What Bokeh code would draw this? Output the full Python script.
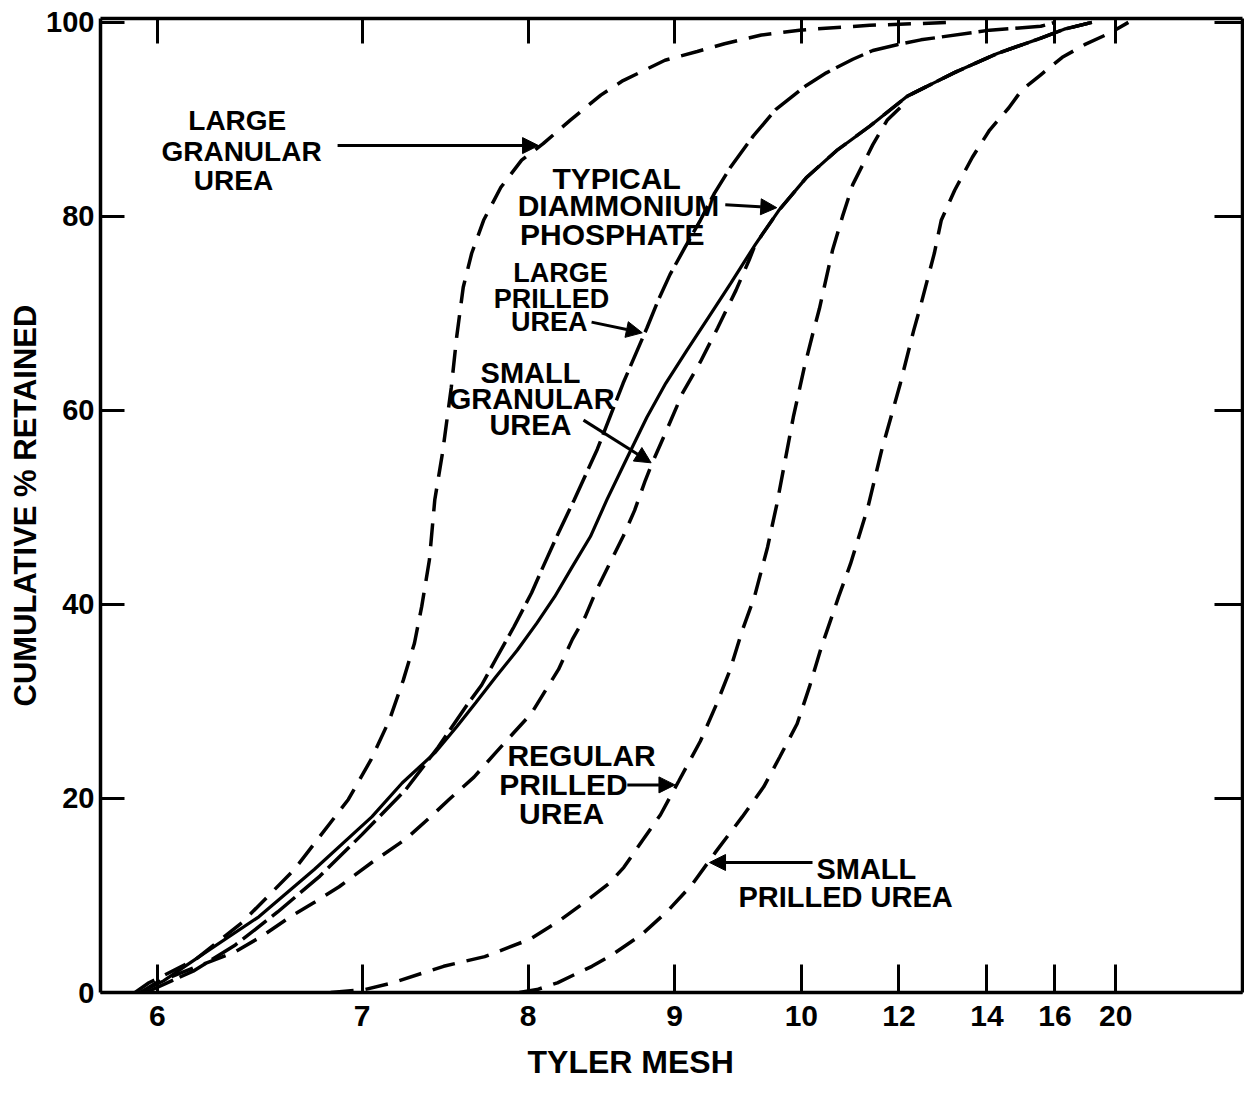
from bokeh.plotting import figure
from bokeh.models import Range1d, FixedTicker, LinearAxis, Label, Arrow, NormalHead, Title
from bokeh.embed import file_html
from bokeh.resources import INLINE

# ---------------- data ----------------
# Tyler mesh designations and their sieve openings (mm) -> x axis
mesh_labels = ["6", "7", "8", "9", "10", "12", "14", "16", "20"]
mesh_opening_mm = [3.327, 2.794, 2.362, 1.981, 1.651, 1.397, 1.168, 0.991, 0.833]
pct_ticks = [0, 20, 40, 60, 80, 100]

# cumulative % retained versus sieve opening (mm)
large_granular_mm = [3.385, 3.349, 3.228, 3.107, 2.970, 2.830, 2.771, 2.723, 2.687, 2.658,
                     2.639, 2.619, 2.605, 2.585, 2.562, 2.548, 2.531, 2.509, 2.478, 2.433,
                     2.379, 2.323, 2.253, 2.173, 2.115, 2.006, 1.922, 1.851, 1.755, 1.656,
                     1.473, 1.260]
large_granular_pct = [0, 1.0, 3.4, 7.2, 12.7, 19.9, 24.0, 28.1, 32.2, 36.0,
                      39.8, 44.6, 50.8, 55.6, 62.4, 67.6, 72.7, 76.2, 79.6, 83.0,
                      85.8, 87.5, 89.9, 92.5, 94.0, 96.1, 97.0, 97.8, 98.7, 99.2,
                      99.7, 100]

dap_mm = [3.371, 3.311, 3.192, 3.063, 2.918, 2.769, 2.690, 2.605, 2.548, 2.498,
          2.447, 2.390, 2.339, 2.293, 2.247, 2.200, 2.157, 2.106, 2.053, 2.004,
          1.949, 1.891, 1.835, 1.771, 1.710, 1.638, 1.559, 1.473, 1.375, 1.254,
          1.141, 1.033, 0.967, 0.895]
dap_pct = [0, 1.2, 4.4, 7.8, 12.7, 18.1, 21.6, 24.7, 27.4, 29.9,
           32.5, 35.3, 38.1, 40.8, 43.9, 47.0, 50.8, 55.0, 59.3, 62.8,
           66.2, 69.7, 73.1, 77.1, 80.6, 84.0, 86.8, 89.3, 92.4, 94.8,
           96.8, 98.3, 99.3, 100]

large_prilled_mm = [3.357, 3.234, 3.124, 3.014, 2.904, 2.794, 2.681, 2.596, 2.560, 2.520,
                    2.483, 2.447, 2.399, 2.353, 2.323, 2.283, 2.242, 2.182, 2.115, 2.053,
                    2.023, 1.993, 1.954, 1.914, 1.877, 1.835, 1.776, 1.718, 1.638, 1.586,
                    1.517, 1.465, 1.402, 1.340, 1.161, 1.028, 0.991]
large_prilled_pct = [0, 2.2, 4.9, 8.3, 12.0, 16.3, 20.9, 25.3, 27.4, 29.7,
                     31.7, 34.3, 37.7, 41.2, 43.9, 47.4, 50.8, 56.0, 62.8, 68.5,
                     71.4, 74.0, 76.8, 79.6, 82.4, 85.1, 88.3, 91.0, 93.5, 94.8,
                     96.2, 97.1, 97.7, 98.2, 99.2, 99.6, 100]

small_granular_mm = [3.371, 3.330, 3.223, 3.129, 3.055, 2.981, 2.918, 2.854, 2.769, 2.681,
                     2.616, 2.568, 2.503, 2.447, 2.399, 2.353, 2.316, 2.283, 2.247, 2.214,
                     2.184, 2.145, 2.115, 2.085, 2.057, 2.039, 2.009, 1.960, 1.914, 1.869,
                     1.821, 1.787, 1.771, 1.710, 1.638, 1.559, 1.473, 1.375, 1.254, 1.141,
                     1.033, 0.967, 0.895]
small_granular_pct = [0, 1.0, 2.7, 4.1, 5.8, 7.8, 9.3, 10.9, 13.4, 15.8,
                      18.1, 19.9, 22.2, 24.7, 26.8, 28.8, 31.2, 33.3, 36.4, 38.7,
                      41.5, 44.6, 47.0, 49.7, 52.8, 54.6, 57.3, 61.8, 65.0, 68.5,
                      72.4, 75.5, 77.1, 80.6, 84.0, 86.8, 89.3, 92.4, 94.8, 96.8,
                      98.3, 99.3, 100]

regular_prilled_mm = [2.876, 2.788, 2.715, 2.582, 2.475, 2.357, 2.277, 2.205, 2.150, 2.113,
                      2.066, 2.018, 1.970, 1.914, 1.872, 1.837, 1.805, 1.773, 1.739, 1.715,
                      1.672, 1.643, 1.622, 1.604, 1.570, 1.544, 1.517, 1.465, 1.428, 1.394,
                      1.375, 1.254, 1.141, 1.033, 0.967, 0.895]
regular_prilled_pct = [0, 0.3, 1.0, 2.7, 3.7, 5.5, 7.5, 9.6, 11.3, 12.9,
                       15.6, 18.3, 21.8, 25.9, 29.7, 33.2, 37.3, 40.8, 45.9, 50.3,
                       59.3, 64.5, 67.8, 70.5, 76.5, 80.0, 83.3, 87.4, 89.9, 91.2,
                       92.4, 94.8, 96.8, 98.3, 99.3, 100]

small_prilled_mm = [2.385, 2.339, 2.286, 2.196, 2.143, 2.066, 1.999, 1.936, 1.872, 1.805,
                    1.749, 1.707, 1.662, 1.630, 1.599, 1.554, 1.523, 1.478, 1.442, 1.394,
                    1.359, 1.340, 1.305, 1.287, 1.252, 1.206, 1.161, 1.111, 1.078, 1.028,
                    0.972, 0.914, 0.843, 0.800]
small_prilled_pct = [0, 0.3, 1.0, 2.7, 3.9, 6.0, 8.4, 11.1, 14.6, 18.1,
                     21.2, 24.3, 27.7, 31.5, 35.6, 40.8, 44.2, 50.0, 55.9, 62.7,
                     68.2, 70.9, 76.2, 79.6, 82.7, 86.1, 88.9, 91.2, 93.0, 94.6,
                     96.4, 97.7, 99.0, 100]

# ---------------- figure ----------------
FONT = "Liberation Sans"

p = figure(width=1244, height=1092,
           x_range=Range1d(3.475, 0.503), y_range=Range1d(0, 100.4),
           x_axis_type=None, y_axis_type=None,
           output_backend="svg", toolbar_location=None,
           min_border_left=100, min_border_right=2, min_border_top=18, min_border_bottom=99)
p.outline_line_color = None
p.background_fill_color = "white"
p.border_fill_color = "white"


def style_axis(ax, tick_len, show_labels, size="30px", standoff=8):
    ax.axis_line_color = "black"
    ax.axis_line_width = 3.5
    ax.major_tick_in = tick_len
    ax.major_tick_out = 0
    ax.major_tick_line_width = 3
    ax.major_tick_line_color = "black"
    ax.minor_tick_line_color = None
    if show_labels:
        ax.major_label_text_font = FONT
        ax.major_label_text_font_style = "bold"
        ax.major_label_text_font_size = size
        ax.major_label_text_color = "black"
        ax.major_label_standoff = standoff
    else:
        ax.major_label_text_color = None
        ax.major_label_text_font_size = "0px"
        ax.major_label_standoff = 0


bottom = LinearAxis(ticker=FixedTicker(ticks=mesh_opening_mm),
                    major_label_overrides=dict(zip(mesh_opening_mm, mesh_labels)))
style_axis(bottom, 28, True, "30px", 13)
p.add_layout(bottom, "below")

top = LinearAxis(ticker=FixedTicker(ticks=mesh_opening_mm))
style_axis(top, 25, False)
p.add_layout(top, "above")

left = LinearAxis(ticker=FixedTicker(ticks=pct_ticks), axis_label="CUMULATIVE % RETAINED")
style_axis(left, 24, True, "29px", 6)
left.axis_label_text_font = FONT
left.axis_label_text_font_style = "bold"
left.axis_label_text_font_size = "31px"
left.axis_label_text_color = "black"
left.axis_label_standoff = 0
p.add_layout(left, "left")

right = LinearAxis(ticker=FixedTicker(ticks=pct_ticks))
style_axis(right, 28, False)
p.add_layout(right, "right")

# x-axis title, placed where the original has it (left of centre)
p.add_layout(Title(text="TYLER MESH", align="left", offset=427, standoff=26,
                   text_font=FONT, text_font_style="bold", text_font_size="32px",
                   text_color="black"), "below")

DASH = "23 12"
lw = 3.5
p.line(large_granular_mm, large_granular_pct, line_color="black", line_width=lw, line_dash=DASH)
p.line(large_prilled_mm, large_prilled_pct, line_color="black", line_width=lw, line_dash="30 7")
p.line(small_granular_mm, small_granular_pct, line_color="black", line_width=lw, line_dash=DASH)
p.line(regular_prilled_mm, regular_prilled_pct, line_color="black", line_width=lw, line_dash=DASH)
p.line(small_prilled_mm, small_prilled_pct, line_color="black", line_width=lw, line_dash=DASH)
p.line(dap_mm, dap_pct, line_color="black", line_width=3.2)

# ---------------- annotations ----------------
notes = [
    ("LARGE", 3.119, 89.9, 28), ("GRANULAR", 3.108, 86.7, 28), ("UREA", 3.129, 83.7, 28),
    ("TYPICAL", 2.132, 83.9, 30), ("DIAMMONIUM", 2.127, 81.1, 30), ("PHOSPHATE", 2.143, 78.1, 30),
    ("LARGE", 2.278, 74.2, 27), ("PRILLED", 2.301, 71.5, 27), ("UREA", 2.307, 69.1, 27),
    ("SMALL", 2.356, 63.9, 29), ("GRANULAR", 2.353, 61.2, 29), ("UREA", 2.356, 58.5, 29),
    ("REGULAR", 2.223, 24.4, 30), ("PRILLED", 2.270, 21.4, 30), ("UREA", 2.275, 18.5, 30),
    ("SMALL", 1.482, 12.7, 29), ("PRILLED UREA", 1.536, 9.8, 29),
]
for txt, xx, yy, fs in notes:
    p.add_layout(Label(x=xx, y=yy, text=txt, text_font=FONT, text_font_style="bold",
                       text_font_size=f"{fs}px", text_color="black",
                       text_align="center", text_baseline="middle"))

arrows = [
    (2.858, 87.3, 2.335, 87.3),
    (1.849, 81.2, 1.715, 80.9),
    (2.197, 69.1, 2.065, 68.0),
    (2.218, 59.0, 2.042, 54.6),
    (2.104, 21.4, 1.980, 21.4),
    (1.622, 13.4, 1.890, 13.4),
]
for xs, ys, xe, ye in arrows:
    p.add_layout(Arrow(end=NormalHead(size=16, fill_color="black", line_color="black", line_width=1),
                       x_start=xs, y_start=ys, x_end=xe, y_end=ye,
                       line_color="black", line_width=3))

open("out.html", "w").write(file_html(p, INLINE))
